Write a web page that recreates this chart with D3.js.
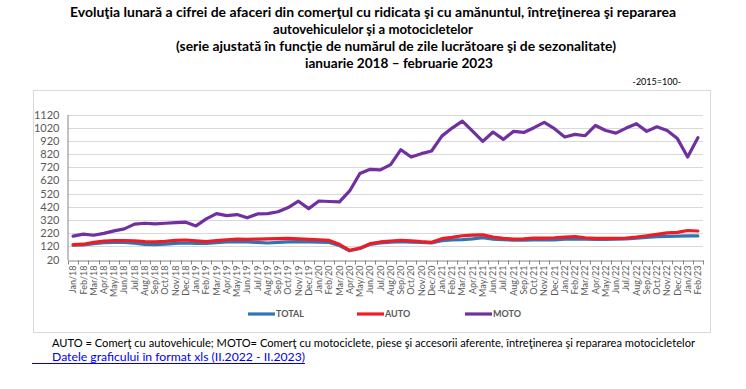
<!DOCTYPE HTML>
<html>
<head>
  <meta charset="utf-8">
  <title>Cifra de afaceri - comert auto/moto</title>
  <script src="https://d3js.org/d3.v7.min.js"></script>
  <style>
    body { margin: 0; background: #fff; }
    svg text { font-family: Lato, "Open Sans", sans-serif; }
  </style>
</head>
<body>
<script>
  // months jan 2018 - feb 2023
  const monthNames = ['Jan', 'Feb', 'Mar', 'Apr', 'May', 'Jun', 'Jul', 'Aug', 'Sep', 'Oct', 'Nov', 'Dec'];
  const months = [];
  for (let y = 18; y <= 23; y++) {
    monthNames.forEach((m, i) => {
      if (y === 23 && i > 1) return;
      months.push(m + '/' + y);
    });
  }

  const total = [128, 130, 140, 148, 149, 149, 144, 135, 133, 137, 142, 145, 143, 143, 148, 153, 156, 154, 150, 145, 150,
    154, 156, 154, 151, 149, 126, 86, 103, 135, 146, 151, 156, 151, 149, 146, 163, 168, 171, 176, 185,
    175, 170, 167, 167, 168, 168, 168, 175, 177, 174, 172, 172, 174, 177, 182, 188, 193, 196, 198, 199, 199];
  const auto = [133, 136, 150, 159, 163, 164, 162, 155, 154, 158, 165, 168, 162, 155, 163, 170, 174, 172, 175, 177, 179,
    180, 177, 173, 170, 165, 135, 90, 106, 140, 153, 160, 166, 162, 155, 150, 178, 188, 200, 205, 207,
    190, 180, 175, 177, 182, 182, 185, 190, 193, 185, 180, 180, 180, 183, 190, 200, 211, 222, 226, 240, 236];
  const moto = [197, 212, 204, 218, 237, 252, 288, 295, 290, 295, 300, 303, 275, 328, 368, 353, 361, 336, 366, 368, 382,
    414, 462, 406, 464, 460, 457, 540, 672, 704, 700, 740, 853, 797, 823, 843, 956, 1017, 1070, 994, 916, 987,
    931, 992, 984, 1020, 1060, 1012, 949, 969, 959, 1037, 999, 979, 1017, 1050, 992, 1027, 999, 937, 797, 944];
  const yTicks = d3.range(20, 1121, 100);

  const series = [
    { name: 'TOTAL', values: total, color: '#2e75b6' },
    { name: 'AUTO', values: auto, color: '#ee1c25' },
    { name: 'MOTO', values: moto, color: '#7030a0' },
  ];

  const svg = d3.select('body').append('svg')
    .attr('width', 746)
    .attr('height', 389);

  // titles
  const titles = [
    { t: 'Evoluţia lunară a cifrei de afaceri din comerţul cu ridicata şi cu amănuntul, întreţinerea şi repararea', x: 373, y: 17, w: 606 },
    { t: 'autovehiculelor şi a motocicletelor', x: 373, y: 34, w: 200 },
    { t: '(serie ajustată în funcţie de numărul de zile lucrătoare şi de sezonalitate)', x: 396, y: 51, w: 440 },
    { t: 'ianuarie 2018 – februarie 2023', x: 399, y: 68, w: 188 },
  ];
  svg.selectAll('.title').data(titles).join('text')
    .attr('class', 'title')
    .attr('x', d => d.x)
    .attr('y', d => d.y)
    .attr('text-anchor', 'middle')
    .attr('textLength', d => d.w)
    .attr('lengthAdjust', 'spacingAndGlyphs')
    .style('font-weight', 'bold')
    .style('font-size', '13px')
    .text(d => d.t);

  svg.append('text')
    .attr('x', 681).attr('y', 85)
    .attr('text-anchor', 'end')
    .style('font-size', '9px')
    .text('-2015=100-');

  // chart frame
  svg.append('rect')
    .attr('x', 33.5).attr('y', 90.5)
    .attr('width', 677).attr('height', 242)
    .attr('fill', 'none')
    .attr('stroke', '#d9d9d9');

  const x = d3.scaleBand().domain(months).range([68, 703]);
  const y = d3.scaleLinear().domain([20, 1120]).range([259.5, 114.5]);

  // gridlines
  svg.append('g').selectAll('line').data(yTicks.slice(1)).join('line')
    .attr('x1', 68).attr('x2', 703)
    .attr('y1', d => Math.round(y(d)) + 0.5).attr('y2', d => Math.round(y(d)) + 0.5)
    .attr('stroke', '#d9d9d9');

  // y axis
  const yAxis = svg.append('g')
    .attr('transform', 'translate(67.5,0)')
    .call(d3.axisLeft(y).tickValues(yTicks).tickFormat(d3.format('d')).tickSize(0).tickPadding(8));
  yAxis.select('.domain').attr('stroke', '#868686');
  yAxis.selectAll('text').style('font-size', '11px').attr('fill', '#595959');

  // x axis
  const xAxis = svg.append('g')
    .attr('transform', 'translate(0,' + (Math.round(y(20)) + 0.5) + ')')
    .call(d3.axisBottom(x).tickSize(0).tickPadding(0));
  xAxis.select('.domain').attr('stroke', '#868686');
  xAxis.selectAll('text')
    .style('font-size', '9px')
    .attr('fill', '#595959')
    .attr('transform', 'rotate(-90)')
    .attr('text-anchor', 'end')
    .attr('x', -5)
    .attr('y', 0)
    .attr('dy', '0.35em');
  // tick marks between categories
  xAxis.append('g').selectAll('line').data(months.concat(['end'])).join('line')
    .attr('x1', (d, i) => Math.round(68 + i * x.bandwidth()) + 0.5)
    .attr('x2', (d, i) => Math.round(68 + i * x.bandwidth()) + 0.5)
    .attr('y1', 0).attr('y2', 4)
    .attr('stroke', '#868686');

  // lines
  const line = d3.line()
    .x((d, i) => x(months[i]) + x.bandwidth() / 2)
    .y(d => y(d));
  svg.append('g').selectAll('path').data(series).join('path')
    .attr('d', d => line(d.values))
    .attr('fill', 'none')
    .attr('stroke', d => d.color)
    .attr('stroke-width', 3.2)
    .attr('stroke-linejoin', 'round')
    .attr('stroke-linecap', 'round');

  // legend
  const legendX = [248, 357, 465];
  const legend = svg.append('g').selectAll('g').data(series).join('g')
    .attr('transform', (d, i) => 'translate(' + legendX[i] + ',314)');
  legend.append('line')
    .attr('x1', 0).attr('x2', 27)
    .attr('stroke', d => d.color)
    .attr('stroke-width', 3.2);
  legend.append('text')
    .attr('x', 28).attr('dy', '0.35em')
    .style('font-size', '9px')
    .style('font-weight', 'bold')
    .attr('fill', '#595959')
    .text(d => d.name);

  // footnotes
  svg.append('text')
    .attr('x', 52).attr('y', 347)
    .attr('textLength', 643)
    .attr('lengthAdjust', 'spacingAndGlyphs')
    .style('font-size', '12px')
    .text('AUTO = Comerţ cu autovehicule; MOTO= Comerţ cu motociclete, piese şi accesorii aferente, întreţinerea şi repararea motocicletelor');

  svg.append('text')
    .attr('x', 52).attr('y', 361)
    .attr('textLength', 253)
    .attr('lengthAdjust', 'spacingAndGlyphs')
    .style('font-size', '12px')
    .attr('fill', '#0000ee')
    .text('Datele graficului în format xls (II.2022 - II.2023)');
  svg.append('line')
    .attr('x1', 32).attr('x2', 305)
    .attr('y1', 363.5).attr('y2', 363.5)
    .attr('stroke', '#0000ee');
</script>
</body>
</html>
